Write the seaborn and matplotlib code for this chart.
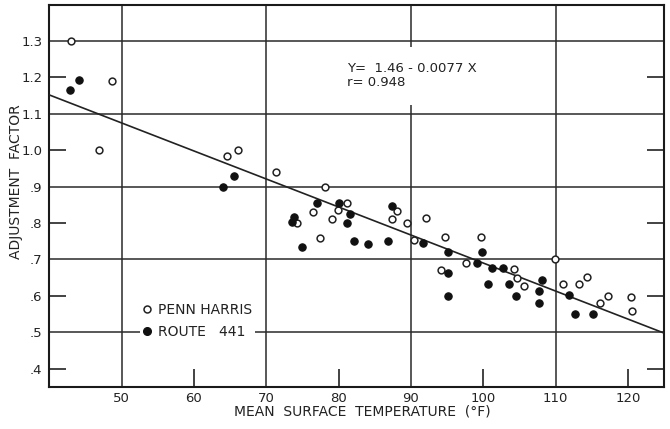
import matplotlib
matplotlib.use("Agg")
import matplotlib.pyplot as plt
from matplotlib.lines import Line2D
import seaborn as sns
import pandas as pd
import numpy as np

# ---- data ----
penn_x = [43.0, 48.6, 46.9, 64.6, 66.1, 71.3, 78.1, 81.1, 79.9, 76.4, 74.2, 79.1,
          77.5, 88.1, 87.4, 89.4, 90.5, 92.1, 94.7, 99.7, 97.6, 94.2, 104.3, 104.7,
          105.7, 109.9, 111.0, 113.2, 114.3, 117.2, 116.1, 120.4, 120.6]
penn_y = [1.30, 1.19, 1.00, 0.984, 1.00, 0.94, 0.90, 0.856, 0.837, 0.83, 0.80, 0.81,
          0.76, 0.833, 0.81, 0.80, 0.752, 0.813, 0.762, 0.762, 0.689, 0.67, 0.673, 0.648,
          0.628, 0.702, 0.631, 0.631, 0.651, 0.599, 0.58, 0.597, 0.557]

route_x = [44.1, 42.9, 65.6, 64.0, 77.0, 80.0, 81.6, 73.9, 73.5, 81.2, 75.0, 82.1,
           84.1, 86.9, 87.4, 91.7, 95.2, 99.8, 99.2, 95.2, 101.2, 102.7, 108.1, 100.7,
           103.6, 107.7, 104.6, 95.1, 107.7, 111.9, 112.7, 115.2]
route_y = [1.193, 1.165, 0.93, 0.90, 0.856, 0.854, 0.826, 0.817, 0.803, 0.80, 0.733, 0.751,
           0.742, 0.75, 0.847, 0.746, 0.72, 0.719, 0.69, 0.663, 0.675, 0.676, 0.642, 0.633,
           0.633, 0.613, 0.599, 0.599, 0.58, 0.601, 0.55, 0.55]

intercept = 1.46
slope = -0.0077
equation_text = "Y=  1.46 - 0.0077 X\nr= 0.948"

x_tick_values = [50, 60, 70, 80, 90, 100, 110, 120]
y_tick_values = [0.4, 0.5, 0.6, 0.7, 0.8, 0.9, 1.0, 1.1, 1.2, 1.3]
y_tick_labels = [".4", ".5", ".6", ".7", ".8", ".9", "1.0", "1.1", "1.2", "1.3"]
x_grid = [50, 70, 90, 110]
y_grid = [0.5, 0.7, 0.9, 1.1, 1.3]
x_short_ticks = [60, 80, 100, 120]
y_short_ticks = [0.4, 0.6, 0.8, 1.0, 1.2]

legend_labels = ["PENN HARRIS", "ROUTE   441"]
x_label = "MEAN  SURFACE  TEMPERATURE  (°F)"
y_label = "ADJUSTMENT  FACTOR"

# ---- plot ----
sns.set_theme(style="white")
plt.rcParams["font.family"] = ["DejaVu Sans"]

fig = plt.figure(figsize=(6.7, 4.29), dpi=100)
ax = fig.add_axes([0.0736, 0.0986, 0.9174, 0.8904])
ax.set_xlim(40, 125)
ax.set_ylim(0.35, 1.40)

for xv in x_grid:
    ax.axvline(xv, color="#2a2a2a", lw=1.1, zorder=1)
for yv in y_grid:
    ax.axhline(yv, color="#2a2a2a", lw=1.1, zorder=1)

line_x = np.array([40, 125])
line_df = pd.DataFrame({"x": line_x, "y": intercept + slope * line_x})
sns.lineplot(data=line_df, x="x", y="y", color="#222222", lw=1.2, ax=ax, zorder=3)

penn_df = pd.DataFrame({"x": penn_x, "y": penn_y})
route_df = pd.DataFrame({"x": route_x, "y": route_y})
sns.scatterplot(data=penn_df, x="x", y="y", marker="o", s=24, color="white",
                edgecolor="#222222", linewidth=1.1, ax=ax, zorder=4)
sns.scatterplot(data=route_df, x="x", y="y", marker="o", s=28, color="#111111",
                edgecolor="#111111", linewidth=0.8, ax=ax, zorder=4)

# equation text (covers part of the grid line at x=90)
ax.text(81.2, 1.205, equation_text, fontsize=9.5, color="#222222",
        ha="left", va="center", linespacing=1.15, zorder=5,
        bbox=dict(facecolor="white", edgecolor="none", pad=11))

# ticks
ax.xaxis.remove_overlapping_locs = False
ax.yaxis.remove_overlapping_locs = False
ax.set_xticks(x_tick_values)
ax.set_xticklabels([str(v) for v in x_tick_values])
ax.set_yticks(y_tick_values)
ax.set_yticklabels(y_tick_labels)
ax.tick_params(axis="x", which="major", length=0, labelsize=9.5,
               labelcolor="#222222", pad=4)
ax.tick_params(axis="y", which="major", length=0, labelsize=9.5,
               labelcolor="#222222", pad=5)
ax.set_xticks(x_short_ticks, minor=True)
ax.set_yticks(y_short_ticks, minor=True)
ax.tick_params(axis="x", which="minor", direction="in", length=13, width=1.2,
               color="#222222", bottom=True, top=False)
ax.tick_params(axis="y", which="minor", direction="in", length=12, width=1.2,
               color="#222222", left=True, right=True)

for sp in ax.spines.values():
    sp.set_visible(True)
    sp.set_color("#1a1a1a")
    sp.set_linewidth(1.5)

ax.set_xlabel(x_label, fontsize=10, color="#222222")
ax.set_ylabel(y_label, fontsize=10, color="#222222")
ax.xaxis.set_label_coords(0.51, -0.046)
ax.yaxis.set_label_coords(-0.043, 0.537)

handles = [
    Line2D([], [], marker="o", linestyle="none", markersize=5,
           markerfacecolor="white", markeredgecolor="#222222", markeredgewidth=1.1),
    Line2D([], [], marker="o", linestyle="none", markersize=5.5,
           markerfacecolor="#111111", markeredgecolor="#111111"),
]
leg = ax.legend(handles, legend_labels, loc="center left",
                bbox_to_anchor=(52.6, 0.531), bbox_transform=ax.transData,
                frameon=True, facecolor="white", edgecolor="none", framealpha=1,
                fontsize=10, handlelength=0.6, handletextpad=0.45,
                labelspacing=0.6, borderpad=0.2, borderaxespad=0)
leg.set_zorder(5)
for t in leg.get_texts():
    t.set_color("#222222")

fig.savefig("out.png", dpi=100, facecolor="white")
